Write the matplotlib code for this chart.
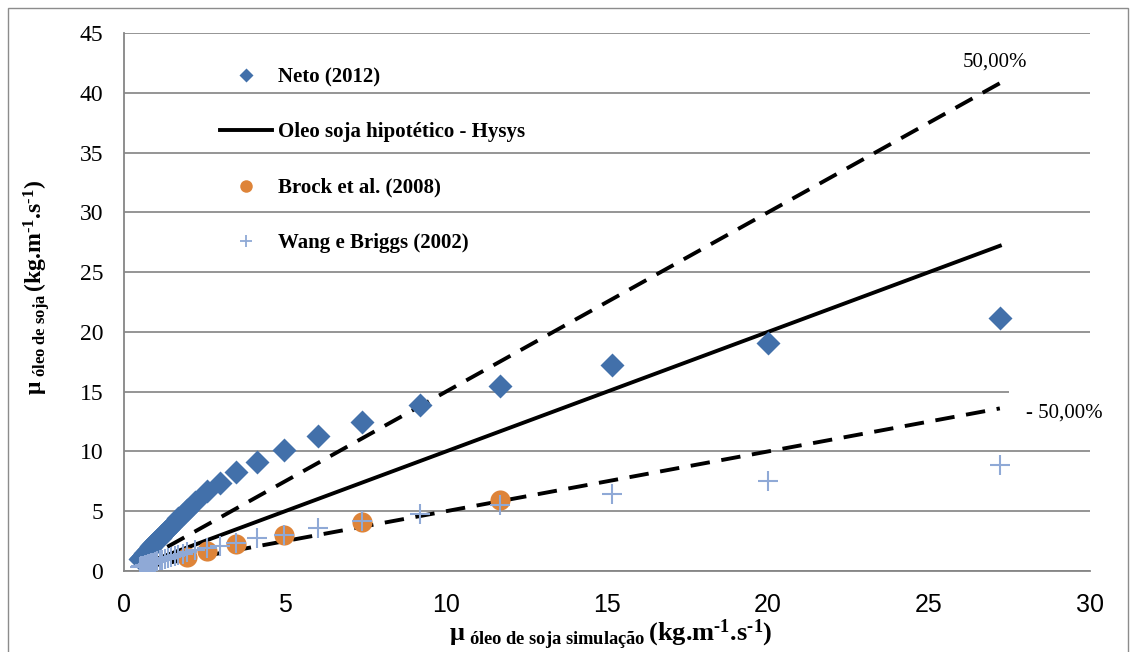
import matplotlib
matplotlib.use("Agg")
import matplotlib.pyplot as plt
from matplotlib.lines import Line2D
from matplotlib.patches import Rectangle

# Simulated viscosity (x axis) at each temperature point
x_sim = [0.50, 0.54, 0.58, 0.62, 0.66, 0.70, 0.75, 0.80, 0.85, 0.91, 0.97,
         1.04, 1.11, 1.19, 1.27, 1.36, 1.46, 1.57, 1.69, 1.82, 1.96, 2.20,
         2.58, 2.98, 3.48, 4.13, 4.97, 6.02, 7.39, 9.19, 11.68, 15.15,
         20.00, 27.20]

# Neto (2012) experimental viscosity
neto = [1.00, 1.12, 1.24, 1.36, 1.48, 1.60, 1.75, 1.90, 2.05, 2.22, 2.40,
        2.60, 2.80, 3.02, 3.24, 3.50, 3.80, 4.10, 4.42, 4.76, 5.12, 5.80,
        6.70, 7.40, 8.25, 9.15, 10.10, 11.30, 12.50, 13.90, 15.50, 17.20,
        19.10, 21.20]

# Wang e Briggs (2002)
wang = [0.35, 0.39, 0.42, 0.46, 0.49, 0.53, 0.57, 0.61, 0.66, 0.71, 0.76,
        0.82, 0.88, 0.94, 1.01, 1.08, 1.16, 1.25, 1.34, 1.44, 1.55, 1.72,
        1.90, 2.10, 2.35, 2.76, 3.05, 3.60, 4.15, 4.77, 5.50, 6.44,
        7.50, 8.86]

# Brock et al. (2008)
brock_x = [1.96, 2.58, 3.48, 4.97, 7.39, 11.68]
brock_y = [1.20, 1.65, 2.25, 3.00, 4.10, 5.95]

# Hysys hypothetical soybean oil: simulation plotted against itself
hysys = list(x_sim)
deviation = 0.50
upper = [v * (1 + deviation) for v in hysys]
lower = [v * (1 - deviation) for v in hysys]

x_ticks = [0, 5, 10, 15, 20, 25, 30]
y_ticks = [0, 5, 10, 15, 20, 25, 30, 35, 40, 45]

c_neto = "#4270AA"
c_brock = "#DE8439"
c_wang = "#8FA9D6"

plt.rcParams["mathtext.fontset"] = "custom"
plt.rcParams["mathtext.rm"] = "Liberation Serif:bold"
plt.rcParams["mathtext.it"] = "Liberation Serif:bold"
plt.rcParams["mathtext.bf"] = "Liberation Serif:bold"
plt.rcParams["mathtext.default"] = "rm"

W, H = 1136, 652
fig = plt.figure(figsize=(W / 100, H / 100), dpi=100)
ax = fig.add_axes([124 / W, 1 - 571 / H, (1090 - 124) / W, (571 - 33) / H])

ax.set_xlim(0, 30)
ax.set_ylim(0, 45)
ax.set_xticks(x_ticks)
ax.set_yticks(y_ticks)
ax.yaxis.grid(True, color="#8C8C8C", lw=1.3)
ax.set_axisbelow(True)
for s in ["top", "right"]:
    ax.spines[s].set_visible(False)
for s in ["left", "bottom"]:
    ax.spines[s].set_color("#868686")
    ax.spines[s].set_linewidth(1.3)
ax.tick_params(length=0)
ax.tick_params(axis="y", pad=15)
ax.tick_params(axis="x", pad=16)
for lab in ax.get_yticklabels():
    lab.set_fontfamily("Liberation Serif")
    lab.set_fontsize(17)
for lab in ax.get_xticklabels():
    lab.set_fontfamily(["Liberation Sans Narrow", "Liberation Sans"])
    lab.set_fontsize(18)

# Reference lines
ax.plot(x_sim, upper, color="black", lw=2.8, dashes=(5.0, 3.0), zorder=2)
ax.plot(x_sim, lower, color="black", lw=2.8, dashes=(5.0, 3.0), zorder=2)
ax.plot(x_sim, hysys, color="black", lw=2.8, zorder=2)

# Experimental data
ax.plot(x_sim, neto, ls="none", marker="D", ms=12, color=c_neto, mec="none", zorder=3)
ax.plot(brock_x, brock_y, ls="none", marker="o", ms=14.5, color=c_brock, mec="none", zorder=4)
ax.plot(x_sim, wang, ls="none", marker="+", ms=14, mew=1.5, color=c_wang, zorder=5)

# Legend
handles = [
    Line2D([], [], ls="none", marker="D", ms=7, color=c_neto, mec="none"),
    Line2D([], [], color="black", lw=2.8),
    Line2D([], [], ls="none", marker="o", ms=9, color=c_brock, mec="none"),
    Line2D([], [], ls="none", marker="+", ms=9, mew=1.3, color=c_wang),
]
labels = ["Neto (2012)", "Oleo soja hipotético - Hysys",
          "Brock et al. (2008)", "Wang e Briggs (2002)"]
ax.legend(handles, labels, loc="upper left",
          bbox_to_anchor=(220 / W, 1 - 67 / H), bbox_transform=fig.transFigure,
          frameon=False, borderpad=0, borderaxespad=0, handlelength=2.5,
          handletextpad=0.3, labelspacing=1.70,
          prop={"family": "Liberation Serif", "weight": "bold", "size": 15})

# Deviation labels
ax.text(27.05, 42.55, "50,00%", family="Liberation Serif", fontsize=15,
        ha="center", va="center")
ax.text(28.0, 13.2, "- 50,00%", family="Liberation Serif", fontsize=15,
        ha="left", va="center", zorder=6,
        bbox=dict(boxstyle="square,pad=0.8", fc="white", ec="none"))

# Axis titles
unit = r"\,(\text{kg.m}^{\text{-1}}\text{.s}^{\text{-1}})"
ax.set_xlabel(r"$\mu_{\ \text{óleo de soja simulação}}" + unit + "$", fontsize=19)
ax.xaxis.set_label_coords(0.504, -0.087)
ax.set_ylabel(r"$\mu_{\ \text{óleo de soja}}" + unit + "$", fontsize=17)
ax.yaxis.set_label_coords(-0.075, 0.528)

# Chart border
fig.patches.append(Rectangle((8 / W, -0.05), (1128 - 8) / W, 1.05 - 8 / H,
                             transform=fig.transFigure, fill=False,
                             ec="#8C8C8C", lw=1.0))

fig.savefig("out.png", dpi=100)
